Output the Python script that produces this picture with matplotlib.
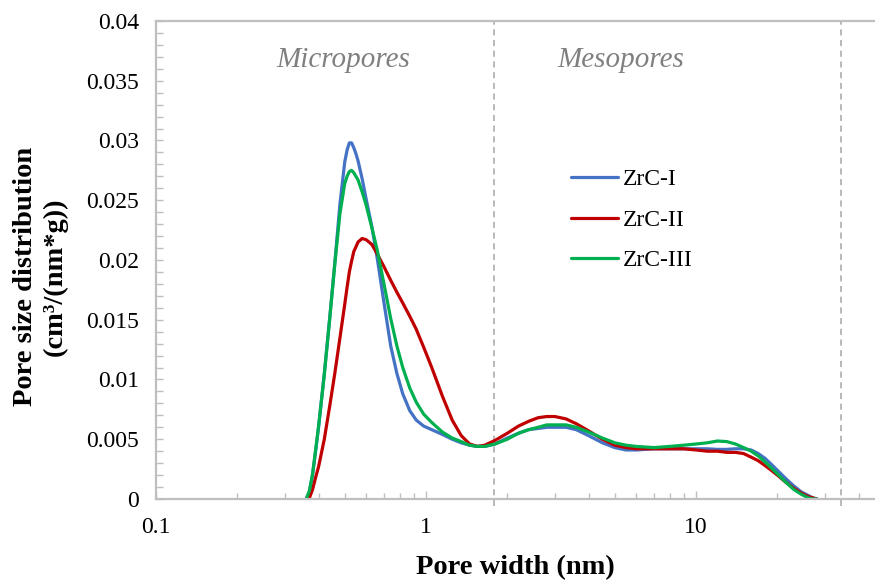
import numpy as np
import matplotlib
matplotlib.use("Agg")
import matplotlib.pyplot as plt

plt.rcParams['font.family'] = ['Liberation Serif', 'DejaVu Serif']

# pore width (nm) and PSD values for each sample
width_nm = [0.36, 0.37, 0.38, 0.39, 0.40, 0.42, 0.44, 0.46, 0.48, 0.50,
            0.51, 0.52, 0.53, 0.54, 0.55, 0.56, 0.58, 0.60, 0.63, 0.66,
            0.70, 0.74, 0.78, 0.82, 0.87, 0.92, 0.98, 1.05, 1.15, 1.25,
            1.35, 1.45, 1.55, 1.65, 1.8, 2.0, 2.2, 2.4, 2.6, 2.8,
            3.0, 3.3, 3.6, 4.0, 4.5, 5.0, 5.5, 6.0, 7.0, 8.0,
            9.0, 10, 11, 12, 13, 14, 15, 16, 17, 18,
            19, 20, 21.5, 23, 24.5, 26, 27, 28]

zrc_1 = [0.0, 0.0006, 0.0020, 0.0040, 0.0060, 0.0105, 0.0152, 0.0199, 0.0247, 0.0282,
         0.0292, 0.0298, 0.0298, 0.0294, 0.0289, 0.0283, 0.0268, 0.0251, 0.0228, 0.0201,
         0.0163, 0.0128, 0.0105, 0.0088, 0.0074, 0.0066, 0.0061, 0.0058, 0.0054, 0.0050,
         0.0047, 0.0045, 0.0044, 0.0044, 0.0046, 0.0051, 0.0055, 0.0058, 0.0059, 0.0060,
         0.0060, 0.0060, 0.0058, 0.0053, 0.0047, 0.0043, 0.0041, 0.0041, 0.0042, 0.0042,
         0.0042, 0.0042, 0.0042, 0.00415, 0.00415, 0.0042, 0.0042, 0.0041, 0.0038, 0.0034,
         0.0029, 0.0024, 0.0017, 0.0011, 0.0006, 0.0003, 0.0001, 0.0]

zrc_2 = [0.0, 0.0001, 0.0008, 0.0018, 0.0027, 0.0050, 0.0078, 0.0106, 0.0135, 0.0163,
         0.0177, 0.0190, 0.0199, 0.0207, 0.0211, 0.0215, 0.0218, 0.0217, 0.0213, 0.0205,
         0.0194, 0.0183, 0.0173, 0.0164, 0.0153, 0.0142, 0.0127, 0.0110, 0.0086, 0.0066,
         0.0053, 0.0046, 0.0044, 0.0045, 0.0049, 0.0055, 0.0061, 0.0065, 0.0068, 0.0069,
         0.0069, 0.0067, 0.0063, 0.0057, 0.0050, 0.0045, 0.0043, 0.0042, 0.0042, 0.0042,
         0.0042, 0.0041, 0.0040, 0.0040, 0.0039, 0.0039, 0.0038, 0.0035, 0.0032, 0.0028,
         0.0024, 0.0020, 0.0014, 0.0009, 0.0005, 0.0002, 0.0001, 0.0]

zrc_3 = [0.0, 0.0007, 0.0021, 0.0041, 0.0061, 0.0104, 0.0151, 0.0198, 0.0239, 0.0264,
         0.0270, 0.0274, 0.0275, 0.0273, 0.0270, 0.0267, 0.0257, 0.0246, 0.0227, 0.0208,
         0.0179, 0.0151, 0.0128, 0.0110, 0.0093, 0.0081, 0.0071, 0.0064, 0.0056, 0.0051,
         0.0048, 0.0045, 0.0044, 0.0044, 0.0046, 0.0050, 0.0055, 0.0058, 0.0060, 0.0062,
         0.0062, 0.0062, 0.0060, 0.0056, 0.0051, 0.0047, 0.0045, 0.0044, 0.0043, 0.0044,
         0.0045, 0.0046, 0.0047, 0.00485, 0.0048, 0.0046, 0.0043, 0.0040, 0.0036, 0.0031,
         0.0026, 0.0021, 0.0014, 0.0008, 0.0004, 0.0001, 0.0, 0.0]

labels = ['ZrC-I', 'ZrC-II', 'ZrC-III']
colors = ['#4472C4', '#C00000', '#00B050']
boundaries = [1.78, 34.5]   # micro/meso, meso/macro

fig = plt.figure(figsize=(8.75, 5.8), dpi=100)
ax = fig.add_axes([0.1783, 0.1397, 0.8217, 0.8241])

for y, lab, c in zip([zrc_1, zrc_2, zrc_3], labels, colors):
    ax.plot(width_nm, y, color=c, lw=2.3, label=lab,
            solid_capstyle='round', solid_joinstyle='round')

for b in boundaries:
    ax.axvline(b, ymin=-0.015, ymax=1, color='#A6A6A6', lw=1.1,
               dashes=(4, 3), clip_on=False, zorder=0)

ax.set_xscale('log')
ax.set_xlim(0.1, 46)
ax.set_ylim(0, 0.04)
ax.set_yticks(np.arange(0, 0.0401, 0.005))
ax.set_yticklabels(['0', '0.005', '0.01', '0.015', '0.02', '0.025', '0.03', '0.035', '0.04'])
ax.set_yticks(np.arange(0, 0.0401, 0.001), minor=True)
ax.set_xticks([0.1, 1, 10])
ax.set_xticklabels(['0.1', '1', '10'])

for s in ['left', 'bottom', 'top']:
    ax.spines[s].set_color('#BFBFBF')
    ax.spines[s].set_linewidth(1.6)
ax.spines['right'].set_visible(False)

ax.tick_params(axis='both', which='both', direction='in', color='#BFBFBF',
               labelsize=17, top=False, right=False)
ax.tick_params(axis='y', which='major', length=5, width=1, pad=12)
ax.tick_params(axis='y', which='minor', length=5, width=1)
ax.tick_params(axis='x', which='major', length=6, width=1, pad=13)
ax.tick_params(axis='x', which='minor', length=4, width=1)

ax.set_xlabel('Pore width (nm)', fontsize=20.5, fontweight='bold', labelpad=12)
fig.text(0.046, 0.523, 'Pore size distribution\n(cm³/(nm*g))', rotation=90,
         ha='center', va='center', multialignment='center',
         fontsize=20.5, fontweight='bold', linespacing=1.25)

ax.text(0.493, 0.0367, 'Micropores', style='italic', color='#808080',
        fontsize=21, ha='center', va='center')
ax.text(5.28, 0.0367, 'Mesopores', style='italic', color='#808080',
        fontsize=21, ha='center', va='center')

ax.legend(loc='upper left', bbox_to_anchor=(0.548, 0.735), frameon=False,
          fontsize=17, handlelength=2.0, handletextpad=0.2, labelspacing=0.8)

fig.savefig('out.png', dpi=100)
